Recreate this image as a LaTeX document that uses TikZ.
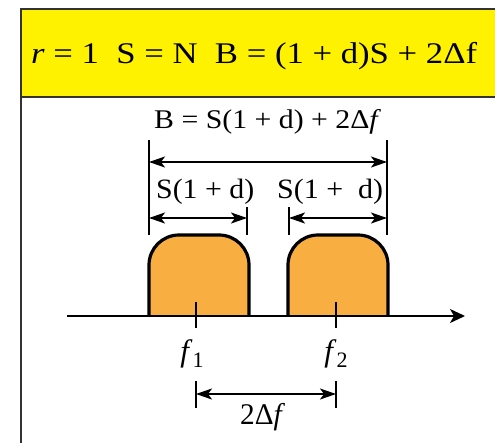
\documentclass[tikz,border=0pt]{standalone}
\usepackage{fontspec}
\usepackage{graphicx}
\setmainfont{Liberation Serif}[ItalicFont={Liberation Serif Italic}]
\usetikzlibrary{arrows.meta}
\definecolor{titleyellow}{HTML}{FFF200}
\definecolor{pulseorange}{HTML}{F9AE42}
\definecolor{framegray}{HTML}{333333}
\newcommand{\fitw}[2]{\resizebox{#1}{\height}{#2}}
\tikzset{
  frameline/.style={draw=framegray, line width=2pt},
  pulse/.style={fill=pulseorange, draw=black, line width=3.2pt, rounded corners=30pt},
  dimline/.style={line width=1.8pt, {Stealth[length=16pt,width=11pt,inset=4pt]}-{Stealth[length=16pt,width=11pt,inset=4pt]}},
  tickline/.style={line width=1.8pt},
  axisline/.style={line width=1.8pt, -{Stealth[length=15pt,width=14pt,inset=4pt]}},
  lbl/.style={inner sep=0pt, anchor=base west, font=\fontsize{28}{32}\selectfont},
}
\begin{document}
\begin{tikzpicture}[x=1pt,y=-1pt]
\useasboundingbox (0,0) rectangle (495,442);
% frame
\fill[titleyellow] (21,9) rectangle (500,97);
\draw[frameline] (21,450) -- (21,9) -- (500,9);
\draw[frameline] (21,97) -- (500,97);
\node[lbl, font=\fontsize{30}{34}\selectfont] (title) at (31,63)
  {\fitw{446pt}{\textit{r} = 1\ \ S = N\ \ B = (1 + d)S + 2Δf}};
% pulses
\filldraw[pulse] (149,316) -- (149,235) -- (249,235) -- (249,316);
\filldraw[pulse] (288,316) -- (288,235) -- (388,235) -- (388,316);
% axis
\coordinate (axL) at (67,316);
\coordinate (axR) at (465,316);
\draw[axisline] (axL) -- (axR);
% center ticks
\coordinate (f1t) at (196,302); \coordinate (f1b) at (196,328);
\coordinate (f2t) at (336,302); \coordinate (f2b) at (336,328);
\draw[tickline] (f1t) -- (f1b);
\draw[tickline] (f2t) -- (f2b);
\node[lbl, anchor=base, font=\fontsize{31}{34}\selectfont] (f1) at (192,361) {\textit{f}\kern0pt\raisebox{-6pt}{\fontsize{22}{24}\selectfont 1}};
\node[lbl, anchor=base, font=\fontsize{31}{34}\selectfont] (f2) at (336,361) {\textit{f}\kern0pt\raisebox{-6pt}{\fontsize{22}{24}\selectfont 2}};
% 2 delta f
\coordinate (dLt) at (196,381); \coordinate (dLb) at (196,408);
\coordinate (dRt) at (336,381); \coordinate (dRb) at (336,408);
\draw[tickline] (dLt) -- (dLb);
\draw[tickline] (dRt) -- (dRb);
\coordinate (dL) at (196,394); \coordinate (dR) at (336,394);
\draw[dimline] (dL) -- (dR);
\node[lbl, font=\fontsize{30}{34}\selectfont] (df) at (240,424) {\fitw{45pt}{2Δ\textit{f}}};
% big B
\coordinate (BLt) at (149,140); \coordinate (BLb) at (149,235);
\coordinate (BRt) at (387,140); \coordinate (BRb) at (387,235);
\draw[tickline] (BLt) -- (BLb);
\draw[tickline] (BRt) -- (BRb);
\coordinate (BL) at (149,162); \coordinate (BR) at (387,162);
\draw[dimline] (BL) -- (BR);
\node[lbl, font=\fontsize{27}{30}\selectfont] (Blabel) at (154,128) {\fitw{227pt}{B = S(1 + d) + 2Δ\textit{f}}};
% small S arrows
\coordinate (s1t) at (247,207); \coordinate (s1b) at (247,235);
\coordinate (s2t) at (289,207); \coordinate (s2b) at (289,235);
\draw[tickline] (s1t) -- (s1b);
\draw[tickline] (s2t) -- (s2b);
\coordinate (S1L) at (149,218); \coordinate (S1R) at (247,218);
\coordinate (S2L) at (289,218); \coordinate (S2R) at (387,218);
\draw[dimline] (S1L) -- (S1R);
\draw[dimline] (S2L) -- (S2R);
\node[lbl] (S1) at (156,198) {\fitw{98pt}{S(1 + d)}};
\node[lbl] (S2) at (277,198) {\fitw{106pt}{S(1 +\ \ d)}};
\end{tikzpicture}
\end{document}
